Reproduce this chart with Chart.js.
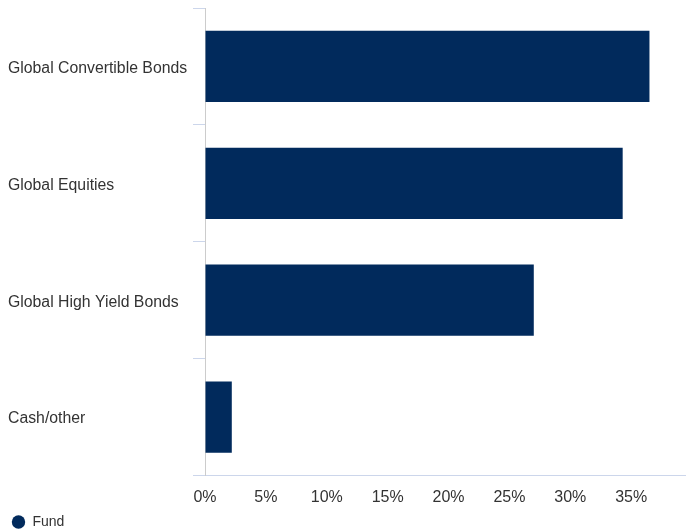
<!DOCTYPE html>
<html>
<head>
<meta charset="utf-8">
<script src="https://cdn.jsdelivr.net/npm/chart.js@4"></script>
<style>
  html, body { margin: 0; padding: 0; background: #fff; }
  #wrap { width: 686px; height: 530px; }
</style>
</head>
<body>
<div id="wrap"><canvas id="myChart"></canvas></div>
<script>
const ctx = document.getElementById('myChart').getContext('2d');

const labels = [
  'Global Convertible Bonds',
  'Global Equities',
  'Global High Yield Bonds',
  'Cash/other',
];

const fundValues = [36.5, 34.3, 27.0, 2.2];

const axisMax = 39.5;

Chart.defaults.font.family = '"Liberation Sans", Arial, sans-serif';
Chart.defaults.color = '#333333';

const data = {
  labels,
  datasets: [
    {
      label: 'Fund',
      data: fundValues,
      backgroundColor: '#012a5c',
      borderWidth: 0,
      categoryPercentage: 1,
      barPercentage: 0.61,
    },
  ],
};

const config = {
  type: 'bar',
  data: data,
  options: {
    indexAxis: 'y',
    responsive: true,
    maintainAspectRatio: false,
    animation: false,
    layout: {
      padding: { left: 8, top: 8, right: 0, bottom: -9 },
    },
    plugins: {
      tooltip: { enabled: false },
      legend: {
        position: 'bottom',
        align: 'start',
        labels: {
          usePointStyle: true,
          pointStyle: 'circle',
          boxHeight: 9.5,
          padding: 3.5,
          color: '#333333',
          font: { size: 14 },
        },
      },
    },
    scales: {
      x: {
        min: 0,
        max: axisMax,
        border: { color: '#ccd6eb', width: 1 },
        grid: { drawOnChartArea: false, drawTicks: false },
        ticks: {
          stepSize: 5,
          includeBounds: false,
          padding: 12.5,
          font: { size: 16 },
          color: '#333333',
          callback: function (value) {
            return value + '%';
          },
        },
        afterFit: (scale) => {
          scale.height = 36;
        },
      },
      y: {
        border: { color: '#cccccc', width: 1 },
        grid: {
          offset: true,
          drawOnChartArea: false,
          drawTicks: true,
          tickLength: 12,
          tickColor: '#ccd6eb',
        },
        ticks: {
          crossAlign: 'far',
          labelOffset: 2,
          font: { size: 15.8 },
          color: '#333333',
        },
        afterFit: (scale) => {
          scale.width = 197;
          scale.paddingTop = 0;
          scale.paddingBottom = 0;
        },
      },
    },
  },
};

const myChart = new Chart(ctx, config);
</script>
</body>
</html>
